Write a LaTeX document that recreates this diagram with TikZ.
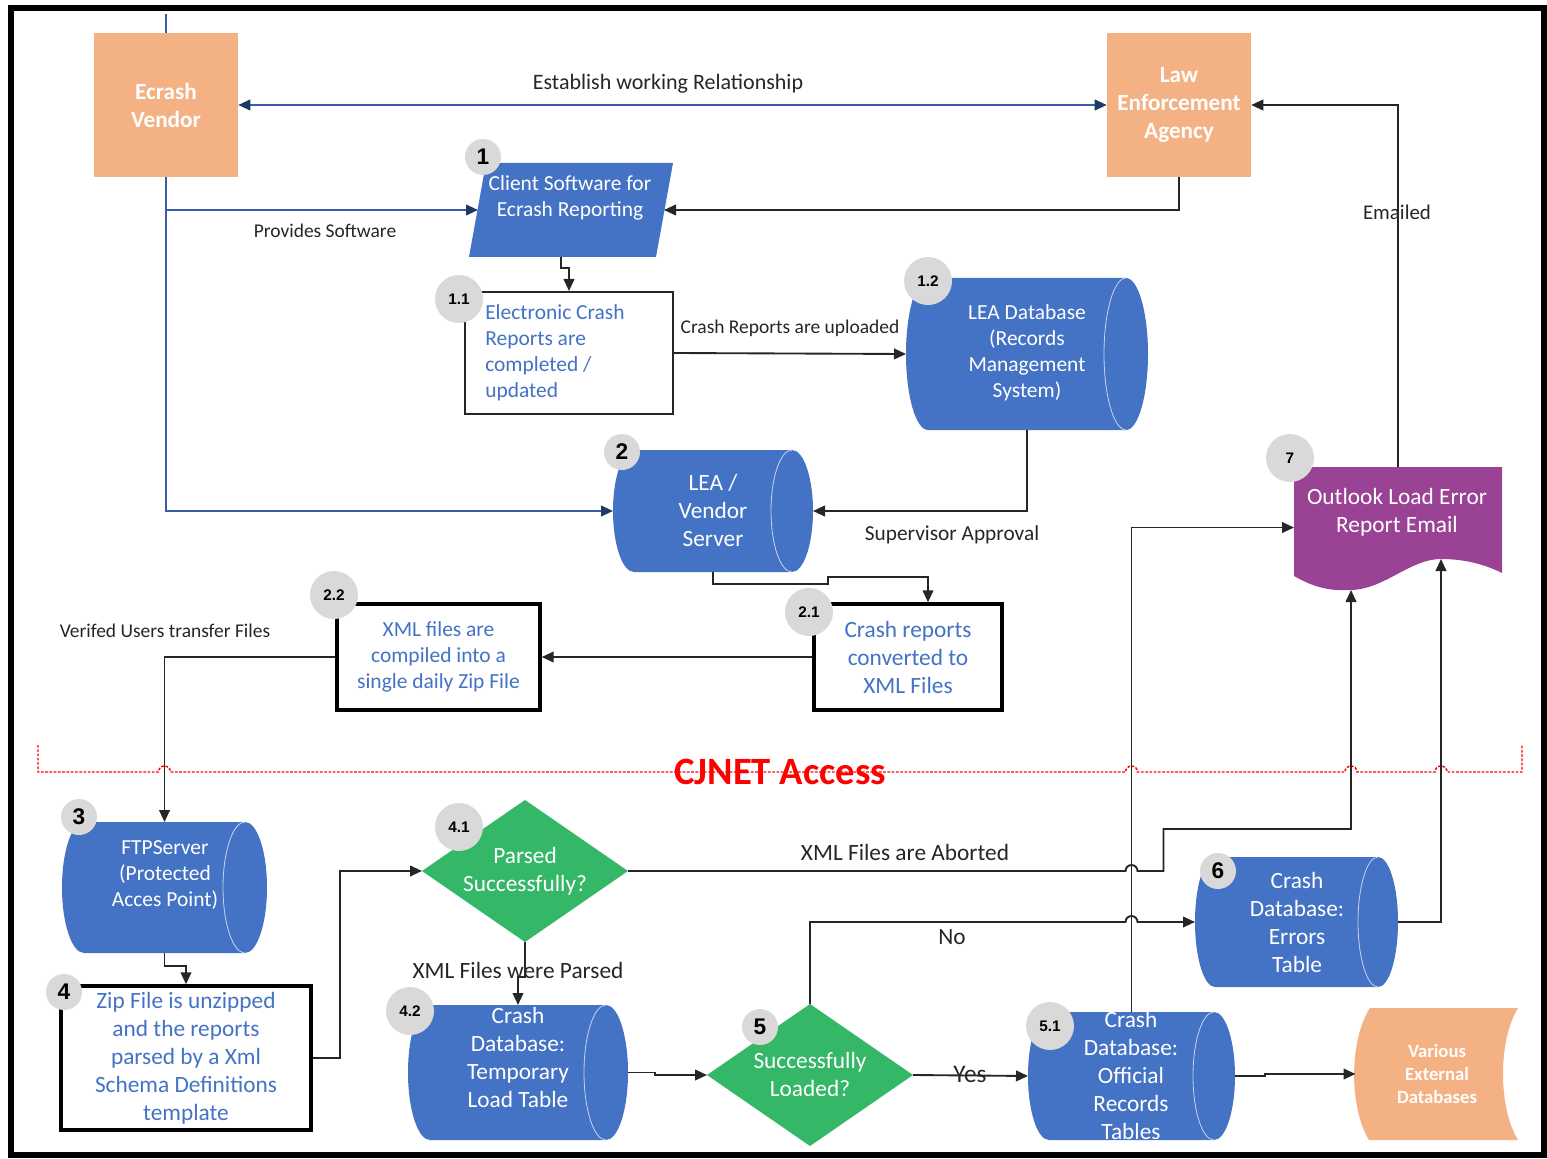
\documentclass[tikz,border=0pt]{standalone}
\usepackage{fontspec}
\setmainfont{Carlito}
\newfontfamily\badgefont{Liberation Sans}
\usetikzlibrary{arrows.meta,calc,shapes.geometric}

\definecolor{vorange}{HTML}{F4B183}
\definecolor{vblue}{HTML}{4472C4}
\definecolor{vgreen}{HTML}{35B768}
\definecolor{vpurple}{HTML}{9A4394}
\definecolor{vgray}{HTML}{D9D9D9}
\definecolor{linkblue}{HTML}{3A5DA8}
\definecolor{navy}{HTML}{1F3864}
\definecolor{ink}{HTML}{262626}
\definecolor{cylrim}{HTML}{C9D4EC}

% lengths given in drawing units (0.75pt each)
\newcommand{\pxl}[1]{#1*0.75pt}

% horizontal data-store cylinder: x1, y1, x2, y2, end radius
\newcommand{\cylbody}[5]{%
  \fill[vblue] ({#1+#5},#2) -- ({#3-#5},#2)
    arc[start angle=-90,end angle=90,x radius=#5,y radius={(#4-#2)/2}]
    -- ({#1+#5},#4)
    arc[start angle=90,end angle=270,x radius=#5,y radius={(#4-#2)/2}] -- cycle;
  \draw[cylrim,line width=0.6pt] ({#3-#5},#2)
    arc[start angle=270,end angle=90,x radius=#5,y radius={(#4-#2)/2}];}

\begin{document}
\begin{tikzpicture}[x=0.75pt,y=-0.75pt,
  conn/.style={draw=ink,line width=1.4pt,-{Triangle[length=9pt,width=8pt]}},
  bline/.style={draw=linkblue,line width=1.4pt},
  bconn/.style={bline,-{Triangle[length=9pt,width=8pt,color=navy]}},
  geom/.style={inner sep=0,outer sep=0,draw=none},
  orangebox/.style={fill=vorange,text=white,align=center,inner sep=0,
    font=\fontsize{17.4}{21}\selectfont\bfseries},
  wt/.style={text=white,align=center,inner sep=0,font=\fontsize{17.5}{21}\selectfont},
  wts/.style={text=white,align=center,inner sep=0,font=\fontsize{16.1}{19.5}\selectfont},
  thickbox/.style={draw=black,line width=2.6pt,fill=white,inner sep=0,text=vblue,
    align=center,font=\fontsize{17.5}{21}\selectfont},
  thinbox/.style={draw=ink,line width=1.5pt,fill=white,inner sep=0},
  decision/.style={diamond,fill=vgreen,inner sep=0,outer sep=0,
    minimum width={\pxl{206}},minimum height={\pxl{142}}},
  lbl/.style={text=ink,inner sep=0,font=\fontsize{14.6}{17.5}\selectfont},
  lblb/.style={text=ink,inner sep=0,font=\fontsize{17.5}{21}\selectfont},
  badge/.style={circle,fill=vgray,inner sep=0,minimum size={\pxl{36}},
    font=\badgefont\fontsize{17}{17}\selectfont\bfseries},
  badgew/.style={circle,fill=vgray,inner sep=0,minimum size={\pxl{48}},
    font=\badgefont\fontsize{11.5}{11.5}\selectfont\bfseries}]

\useasboundingbox (0,0) rectangle (1547,1159);
\draw[line width=4.5pt] (11,8) rectangle (1544,1155);

% CJNET boundary
\draw[red,line width=1.1pt,dash pattern=on 2pt off 1.2pt]
  (38,745) -- (38,772) -- (158.5,772) arc[start angle=180,end angle=360,radius=6]
  -- (1125.5,772) arc[start angle=180,end angle=360,radius=6]
  -- (1345,772) arc[start angle=180,end angle=360,radius=6]
  -- (1435,772) arc[start angle=180,end angle=360,radius=6]
  -- (1522,772) -- (1522,745);
\node[text=red,inner sep=0,font=\fontsize{29}{29}\selectfont\bfseries] (cjnet) at (780,772) {CJNET Access};

% parties
\node[orangebox,minimum width={\pxl{144}},minimum height={\pxl{144}}] (vendor) at (166,105) {Ecrash\\Vendor};
\node[orangebox,minimum width={\pxl{144}},minimum height={\pxl{144}}] (lea) at (1179,105) {Law\\Enforcement\\Agency};

% shapes
\fill[vblue] (486,163) -- (673,163) -- (656,257) -- (469,257) -- cycle;
\node[geom,minimum width={\pxl{204}},minimum height={\pxl{94}}] (client) at (571,210) {};
\coordinate (clientL) at (478,210);
\coordinate (clientR) at (664,210);

\node[thinbox,minimum width={\pxl{208}},minimum height={\pxl{122}}] (r11) at (569,353) {};

\cylbody{906}{278}{1148}{430}{22}
\node[geom,minimum width={\pxl{242}},minimum height={\pxl{152}}] (leadb) at (1027,354) {};

\cylbody{613}{450}{813}{572}{21}
\node[geom,minimum width={\pxl{200}},minimum height={\pxl{122}}] (srv) at (713,511) {};

\node[thickbox,minimum width={\pxl{188}},minimum height={\pxl{106}}] (b21) at (908,657) {Crash reports\\converted to\\XML Files};
\node[thickbox,minimum width={\pxl{203}},minimum height={\pxl{106}},font=\fontsize{16.1}{19.5}\selectfont] (b22) at (438.5,657) {XML files are\\compiled into a\\single daily Zip File};

\cylbody{62}{822}{267}{953}{22}
\node[geom,minimum width={\pxl{205}},minimum height={\pxl{131}}] (ftp) at (164.5,887.5) {};

\node[thickbox,minimum width={\pxl{250}},minimum height={\pxl{144}}] (b4) at (186,1058) {Zip File is unzipped\\and the reports\\parsed by a Xml\\Schema Definitions\\template};

\node[decision] (d41) at (525,871) {};
\cylbody{408}{1005}{628}{1140}{22}
\node[geom,minimum width={\pxl{220}},minimum height={\pxl{135}}] (c42) at (518,1072.5) {};
\node[decision] (d5) at (810,1075) {};
\cylbody{1028}{1012}{1235}{1140}{21}
\node[geom,minimum width={\pxl{207}},minimum height={\pxl{128}}] (c51) at (1131.5,1076) {};
\cylbody{1195}{857}{1398}{987}{20}
\node[geom,minimum width={\pxl{203}},minimum height={\pxl{130}}] (c6) at (1296.5,922) {};

\fill[vpurple] (1294,467) -- (1502,467) -- (1502,573)
  .. controls (1488,566) and (1468,559) .. (1441,559)
  .. controls (1410,559) and (1385,589) .. (1351,590)
  .. controls (1330,591) and (1315,588) .. (1294,576) -- cycle;
\node[geom,minimum width={\pxl{208}},minimum height={\pxl{111}}] (doc7) at (1398,522.5) {};
\coordinate (wave1) at (1351,590);
\coordinate (wave2) at (1441,559);

\fill[vorange] (1370,1008) -- (1518,1008) .. controls (1498,1040) and (1498,1108) .. (1518,1140)
  -- (1369,1140) .. controls (1349,1108) and (1349,1040) .. (1370,1008) -- cycle;
\node[geom,minimum width={\pxl{163}},minimum height={\pxl{132}}] (ved) at (1437,1074) {};

% connectors
\draw[bline] (vendor.north) -- ++(0,-19);
\draw[bline,{Triangle[length=9pt,width=8pt,color=navy]}-{Triangle[length=9pt,width=8pt,color=navy]}] (vendor.east) -- (lea.west);
\draw[bconn] (vendor.south) |- (srv.west);
\draw[bconn] (vendor.south |- clientL) -- (clientL);
\draw[conn] (lea.south) |- (clientR);
\draw[conn] ($(client.south)+(-10,0)$) -- ++(0,11) -| (r11.north);
\draw[conn] (r11.east) -- (leadb.west);
\draw[conn] (leadb.south) |- (srv.east);
\draw[conn] (srv.south) -- ++(0,12) -- ++(115,0) -- ++(0,-7) -| ($(b21.north)+(20,0)$);
\draw[conn] (b21.west) -- (b22.east);
\draw[conn] (b22.west) -| (ftp.north);
\draw[conn] (ftp.south) -- ++(0,13) -| (b4.north);
\draw[conn] (b4.east) -- ++(27,0) |- (d41.west);
\draw[conn] (d41.south) -- ++(0,35) -| (c42.north);
\draw[conn] (c42.east) -- ++(27,0) |- (d5.west);
\draw[conn] (d5.east) -- (c51.west);
\draw[conn] (d5.north) -- (d5.north |- c6.west) -- ($(c51.north |- c6.west)+(-6,0)$)
  arc[start angle=180,end angle=360,radius=6] -- (c6.west);
\draw[conn] (d41.east) -- ($(c51.north |- d41.east)+(-6,0)$)
  arc[start angle=180,end angle=360,radius=6] -- ++(26,0) -- ++(0,-42) -| (wave1);
\draw[conn] (c51.north) |- ($(doc7.west)+(0,5)$);
\draw[conn] (c6.east) -| (wave2);
\draw[conn] (doc7.north) |- (lea.east);
\draw[conn] (c51.east) -- ++(30,0) |- (ved.west);

% texts
\node[wts] (clienttxt) at (570,198) {Client Software for\\Ecrash Reporting};
\node[text=vblue,inner sep=0,align=left,anchor=west,font=\fontsize{16.1}{19.5}\selectfont] (r11txt) at (485,353) {Electronic Crash\\Reports are\\completed /\\updated};
\node[wts] (leadbtxt) at (1027,353) {LEA Database\\(Records\\Management\\System)};
\node[wt] (srvtxt) at (713,510) {LEA /\\Vendor\\Server};
\node[wts] (ftptxt) at (165,875) {FTPServer\\(Protected\\Acces Point)};
\node[wt] (d41txt) at (525,871) {Parsed\\Successfully?};
\node[wt] (c42txt) at (518,1057) {Crash\\Database:\\Temporary\\Load Table};
\node[wt] (d5txt) at (810,1074) {Successfully\\Loaded?};
\node[wt] (c51txt) at (1131,1075) {Crash\\Database:\\Official\\Records\\Tables};
\node[wt] (c6txt) at (1297,922) {Crash\\Database:\\Errors\\Table};
\node[wt] (doc7txt) at (1397,512) {Outlook Load Error\\Report Email};
\node[text=white,align=center,inner sep=0,font=\fontsize{14}{17.3}\selectfont\bfseries] (vedtxt) at (1437,1074) {Various\\External\\Databases};

% connector labels
\node[lbl,font=\fontsize{16.5}{20}\selectfont] (estlbl) at (668,84) {Establish working Relationship};
\node[lbl] (provlbl) at (325,231) {Provides Software};
\node[lbl] (uplbl) at (790,328) {Crash Reports are uploaded};
\node[lbl,font=\fontsize{16}{19}\selectfont] (suplbl) at (952,535) {Supervisor Approval};
\node[lbl] (verlbl) at (165,631) {Verifed Users transfer Files};
\node[lbl,font=\fontsize{15.7}{19}\selectfont] (emlbl) at (1397,212) {Emailed};
\node[lblb] (ablbl) at (905,852) {XML Files are Aborted};
\node[lblb] (parlbl) at (518,970) {XML Files were Parsed};
\node[lblb] (nolbl) at (952,937) {No};
\node[lblb,font=\fontsize{19}{21}\selectfont] (yeslbl) at (970,1074) {Yes};

% step numbers
\node[badge] (n1) at (483,157) {1};
\node[badgew] (n11) at (459,299) {1.1};
\node[badgew] (n12) at (928,281) {1.2};
\node[badge] (n2) at (622,452) {2};
\node[badgew] (n21) at (809,612) {2.1};
\node[badgew] (n22) at (334,595) {2.2};
\node[badgew] (n7) at (1290,458) {7};
\node[badge] (n3) at (79,817) {3};
\node[badge] (n4) at (64,992) {4};
\node[badgew] (n41) at (459,827) {4.1};
\node[badgew] (n42) at (410,1011) {4.2};
\node[badge] (n5) at (760,1027) {5};
\node[badgew] (n51) at (1050,1026) {5.1};
\node[badge] (n6) at (1218,871) {6};
\end{tikzpicture}
\end{document}
